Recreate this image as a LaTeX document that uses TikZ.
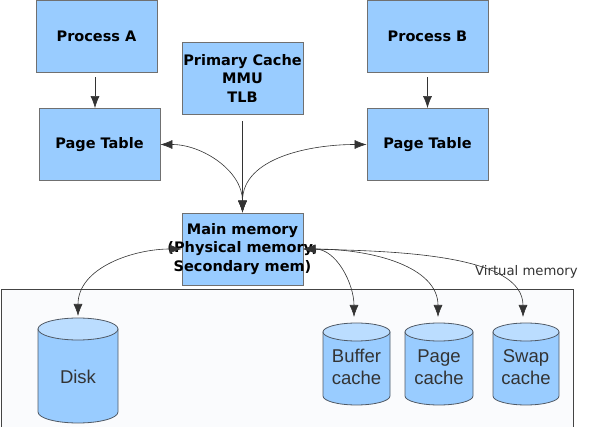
\documentclass[tikz,border=0pt]{standalone}
\usepackage{fontspec}
\setmainfont{DejaVu Sans}
\newfontfamily\libsans{Liberation Sans}
\usetikzlibrary{arrows.meta}
\definecolor{boxblue}{HTML}{99CCFF}
\definecolor{boxline}{HTML}{707070}
\definecolor{cyltop}{HTML}{BBDDFF}
\definecolor{cylline}{HTML}{505A66}
\definecolor{panelfill}{HTML}{FAFBFD}
\definecolor{panelline}{HTML}{444444}
\definecolor{connline}{HTML}{333333}
\newcommand{\drawcyl}[5]{% cx, top, bottom, halfwidth, ry
  \filldraw[fill=boxblue, draw=cylline, line width=0.8pt]
    ({#1-#4},{#2+#5}) -- ({#1-#4},{#3-#5})
    arc[start angle=180, end angle=0, x radius=#4, y radius=#5]
    -- ({#1+#4},{#2+#5}) -- cycle;
  \filldraw[fill=cyltop, draw=cylline, line width=0.8pt]
    (#1,{#2+#5}) ellipse[x radius=#4, y radius=#5];
}
\begin{document}
\begin{tikzpicture}[x=1pt,y=-1pt,
  box/.style={draw=boxline, fill=boxblue, minimum width=121pt, minimum height=72pt,
    inner sep=0pt, line width=0.8pt},
  boxtext/.style={font=\bfseries\fontsize{14.5}{18.5}\selectfont, align=center, inner sep=0pt},
  cyltext/.style={font=\libsans\fontsize{18.5}{21.7}\selectfont, align=center,
    text=connline, inner sep=0pt},
  conn/.style={draw=connline, line width=0.6pt},
  onearrow/.style={conn, -{Latex[length=12pt,width=9pt]}},
  twoarrow/.style={conn, {Latex[length=12pt,width=9pt]}-{Latex[length=12pt,width=9pt]}},
]
\useasboundingbox (0,0) rectangle (589,427);
% lower panel
\draw[fill=panelfill, draw=panelline, line width=0.8pt] (1,289) rectangle (573,440);

% boxes
\node[box] (pa) at (96.5,36) {};
\node[boxtext] (patext) at (pa.center) {Process A};
\node[box] (pta) at (99.5,144.5) {};
\node[boxtext] (ptatext) at (pta.center) {Page Table};
\node[box] (pc) at (242.5,78) {};
\node[boxtext] (pctext) at (pc.center) {Primary Cache\\MMU\\TLB};
\node[box] (pb) at (427.5,36) {};
\node[boxtext] (pbtext) at (pb.center) {Process B};
\node[box] (ptb) at (427.5,144.5) {};
\node[boxtext] (ptbtext) at (ptb.center) {Page Table};
\node[box] (mm) at (242.5,249) {};
\node[boxtext] (mmtext) at (mm.center) {Main memory\\(Physical memory,\\Secondary mem)};

% cylinders
\drawcyl{78}{318}{423}{40}{11}
\node[cyltext] (disk) at (78,377) {Disk};
\coordinate (disktop) at (78,316);
\drawcyl{356.5}{323}{405}{33.5}{9}
\node[cyltext] (buf) at (356.5,367) {Buffer\\cache};
\coordinate (buftop) at (354,317);
\drawcyl{439}{323}{405}{34}{9}
\node[cyltext] (pgc) at (439,367) {Page\\cache};
\coordinate (pgctop) at (438,317);
\drawcyl{526}{323}{405}{33}{9}
\node[cyltext] (swc) at (526,367) {Swap\\cache};
\coordinate (swctop) at (523,317);

% label
\node[font=\fontsize{13.2}{15}\selectfont, text=connline, anchor=base west, inner sep=0pt]
  (vm) at (475,276) {Virtual memory};

% connectors
\draw[onearrow, shorten <=5pt] (pa.south -| 95,0) -- (pta.north -| 95,0);
\draw[onearrow, shorten <=5pt] (pb.south) -- (pb.south |- ptb.north);
\draw[onearrow, shorten <=7pt] (pc.south) -- (mm.north);
\draw[twoarrow] (mm.north) to[out=90, in=0] (pta.east);
\draw[twoarrow] (mm.north) to[out=90, in=180] (ptb.west);
\draw[twoarrow] (mm.west) to[out=180, in=90] (disktop);
\draw[twoarrow] (mm.east) to[out=0, in=90] (buftop);
\draw[twoarrow] (mm.east) .. controls +(70,0) and +(0,-50) .. (pgctop);
\draw[twoarrow] (mm.east) .. controls +(95,2) and +(0,-62) .. (swctop);
\end{tikzpicture}
\end{document}
